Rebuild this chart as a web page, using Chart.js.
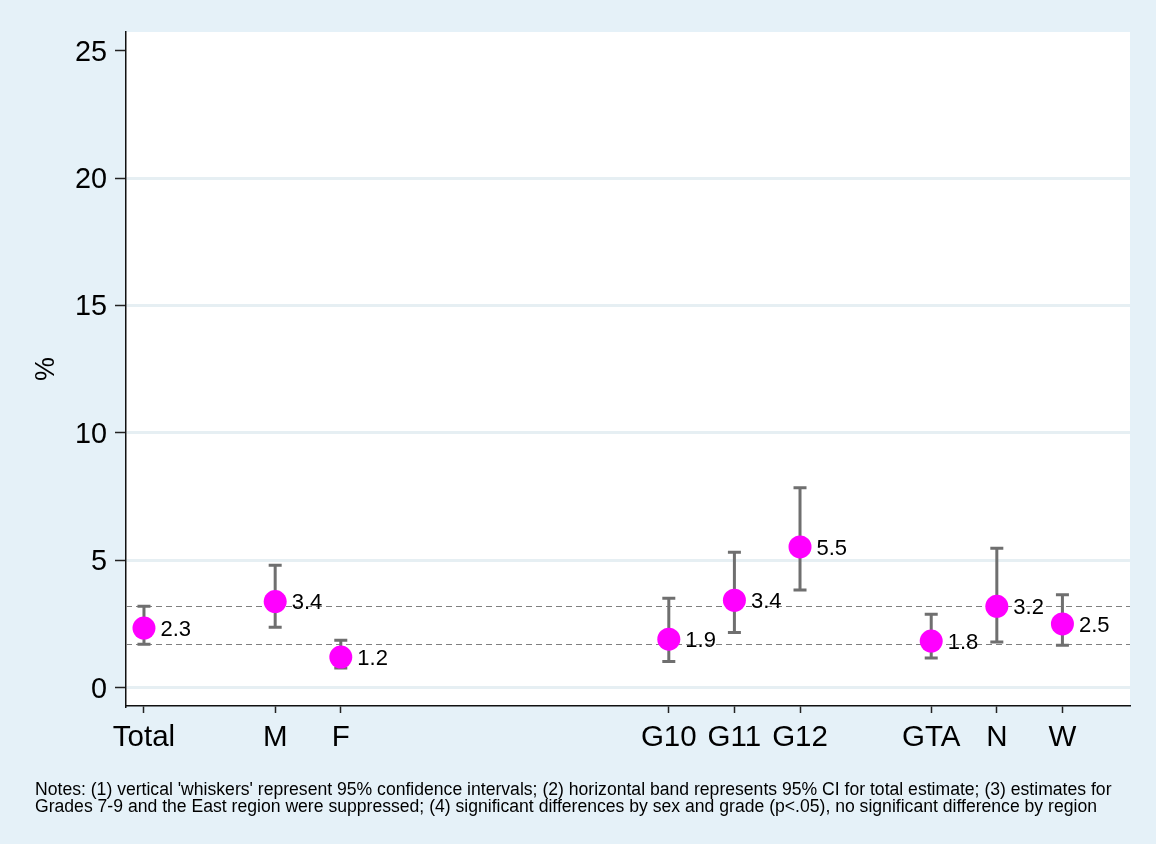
<!DOCTYPE html>
<html>
<head>
<meta charset="utf-8">
<script src="https://cdn.jsdelivr.net/npm/chart.js@4.4.1/dist/chart.umd.min.js"></script>
<style>
html,body{margin:0;padding:0;background:#e5f1f8;}
canvas{display:block;}
</style>
</head>
<body>
<canvas id="c" width="1156" height="844"></canvas>
<script>
// ---- data ----
const categories = ['Total', 'M', 'F', 'G10', 'G11', 'G12', 'GTA', 'N', 'W'];
const xPositions = [1, 3, 4, 9, 10, 11, 13, 14, 15];
const estimates  = [2.34, 3.38, 1.20, 1.90, 3.43, 5.52, 1.83, 3.19, 2.50];
const ciLower    = [1.70, 2.37, 0.77, 1.03, 2.16, 3.83, 1.16, 1.79, 1.66];
const ciUpper    = [3.19, 4.80, 1.86, 3.51, 5.31, 7.84, 2.88, 5.47, 3.65];
const totalBand  = [1.70, 3.19];
const yTicks     = [0, 5, 10, 15, 20, 25];
const yTitle     = '%';
const notes = [
  "Notes: (1) vertical 'whiskers' represent 95% confidence intervals; (2) horizontal band represents 95% CI for total estimate; (3) estimates for",
  "Grades 7-9 and the East region were suppressed; (4) significant differences by sex and grade (p<.05), no significant difference by region"
];

const FONT = "'Liberation Sans', Arial, Helvetica, sans-serif";
const OUTER_BG = '#e5f1f8';
const GRID = '#e6eff3';
const WHISKER = '#6f6f6f';

const bgPlugin = {
  id: 'bg',
  beforeDraw(chart) {
    const {ctx, chartArea: a} = chart;
    ctx.save();
    ctx.fillStyle = OUTER_BG;
    ctx.fillRect(0, 0, chart.width, chart.height);
    ctx.fillStyle = '#ffffff';
    ctx.fillRect(a.left, a.top, a.right - a.left, a.bottom - a.top);
    ctx.restore();
  }
};

const whiskerPlugin = {
  id: 'whiskers',
  beforeDatasetsDraw(chart) {
    const {ctx, chartArea: a, scales: {x, y}} = chart;
    ctx.save();
    ctx.beginPath();
    ctx.rect(a.left, a.top, a.right - a.left, a.bottom - a.top);
    ctx.clip();
    // reference band (dashed)
    ctx.strokeStyle = '#808080';
    ctx.lineWidth = 1.2;
    ctx.setLineDash([6, 4]);
    totalBand.forEach(v => {
      const py = Math.round(y.getPixelForValue(v)) + 0.5;
      ctx.beginPath();
      ctx.moveTo(a.left, py);
      ctx.lineTo(a.right, py);
      ctx.stroke();
    });
    ctx.setLineDash([]);
    // whiskers
    ctx.strokeStyle = WHISKER;
    ctx.lineWidth = 3;
    const cap = 6.5;
    xPositions.forEach((xv, i) => {
      const px = x.getPixelForValue(xv);
      const pl = y.getPixelForValue(ciLower[i]);
      const pu = y.getPixelForValue(ciUpper[i]);
      ctx.beginPath();
      ctx.moveTo(px, pl); ctx.lineTo(px, pu);
      ctx.moveTo(px - cap, pl); ctx.lineTo(px + cap, pl);
      ctx.moveTo(px - cap, pu); ctx.lineTo(px + cap, pu);
      ctx.stroke();
    });
    ctx.restore();
  }
};

const labelPlugin = {
  id: 'valueLabels',
  afterDatasetsDraw(chart) {
    const {ctx, scales: {x, y}} = chart;
    ctx.save();
    ctx.fillStyle = '#000';
    ctx.font = '22px ' + FONT;
    ctx.textAlign = 'left';
    ctx.textBaseline = 'middle';
    xPositions.forEach((xv, i) => {
      const px = x.getPixelForValue(xv);
      const py = y.getPixelForValue(estimates[i]);
      ctx.fillText(estimates[i].toFixed(1), px + 16.5, py + 1.5);
    });
    ctx.restore();
  }
};

const notesPlugin = {
  id: 'notes',
  afterDraw(chart) {
    const ctx = chart.ctx;
    ctx.save();
    ctx.fillStyle = '#000';
    ctx.font = '17.6px ' + FONT;
    ctx.textAlign = 'left';
    ctx.textBaseline = 'alphabetic';
    notes.forEach((line, i) => ctx.fillText(line, 35, 795 + i * 17.3));
    ctx.restore();
  }
};

new Chart(document.getElementById('c'), {
  type: 'scatter',
  data: {
    datasets: [{
      data: xPositions.map((xv, i) => ({x: xv, y: estimates[i]})),
      pointRadius: 11.5,
      pointHoverRadius: 11.5,
      pointBackgroundColor: '#ff00ff',
      pointBorderWidth: 0,
      pointBorderColor: '#ff00ff'
    }]
  },
  options: {
    responsive: false,
    animation: false,
    devicePixelRatio: 1,
    layout: {padding: {top: 32, right: 26, left: 0, bottom: 0}},
    plugins: {legend: {display: false}, tooltip: {enabled: false}},
    scales: {
      x: {
        type: 'linear',
        min: 0.726,
        max: 16.03,
        afterBuildTicks(scale) { scale.ticks = xPositions.map(v => ({value: v})); },
        afterFit(scale) { scale.height = 138; },
        ticks: {
          autoSkip: false,
          maxRotation: 0,
          color: '#000',
          font: {family: FONT, size: 29.5},
          padding: 7,
          callback(v) { const i = xPositions.indexOf(v); return i >= 0 ? categories[i] : ''; }
        },
        grid: {display: true, drawOnChartArea: false, drawTicks: true, tickLength: 7, tickColor: '#222', tickWidth: 1.5},
        border: {display: true, color: '#111', width: 1.5}
      },
      y: {
        type: 'linear',
        min: -0.72,
        max: 25.73,
        afterBuildTicks(scale) { scale.ticks = yTicks.map(v => ({value: v})); },
        afterFit(scale) { scale.width = 126; },
        ticks: {
          color: '#000',
          font: {family: FONT, size: 28.8},
          padding: 8,
          labelOffset: 2,
          callback(v) { return String(v); }
        },
        grid: {
          drawTicks: true,
          tickLength: 11,
          tickColor: '#222',
          tickWidth: 1.5,
          lineWidth: 3,
          color(ctx) { return ctx.tick && ctx.tick.value === 25 ? 'rgba(0,0,0,0)' : GRID; }
        },
        border: {display: true, color: '#111', width: 1.5},
        title: {
          display: true,
          text: yTitle,
          color: '#000',
          font: {family: FONT, size: 27},
          padding: {top: 30, bottom: 0}
        }
      }
    }
  },
  plugins: [bgPlugin, whiskerPlugin, labelPlugin, notesPlugin]
});
</script>
</body>
</html>
